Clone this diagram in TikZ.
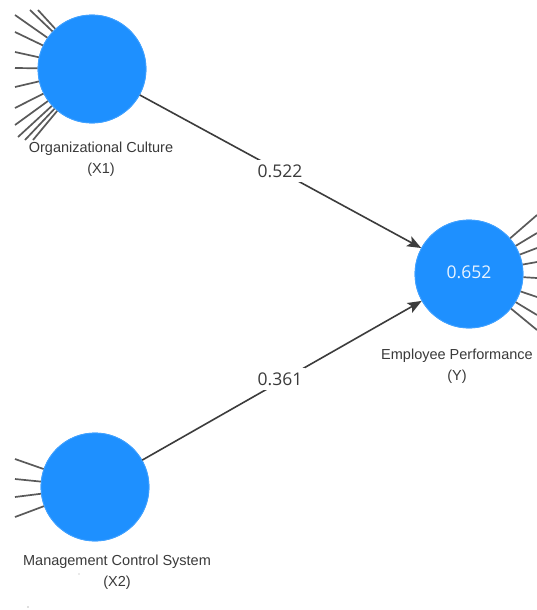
\documentclass[tikz,border=0pt]{standalone}
\usepackage{fontspec}
\setmainfont{Liberation Sans}
\newfontfamily\numfont{Open Sans}
\usetikzlibrary{arrows.meta}

\definecolor{lvblue}{HTML}{1E90FF}
\definecolor{pathgray}{HTML}{3C3C3C}
\definecolor{indgray}{HTML}{5A5A5A}
\definecolor{txtgray}{HTML}{3A3A3A}

\tikzset{
  latent/.style={circle, fill=lvblue, draw=lvblue!85!white, line width=0.8pt,
    minimum size=108pt, inner sep=0pt},
  lvname/.style={align=center, text=txtgray,
    font=\fontsize{14.5}{21}\selectfont},
  indline/.style={draw=indgray, line width=1.7pt},
  pathline/.style={draw=pathgray, line width=1.6pt,
    -{Stealth[length=14pt,width=11pt,inset=3pt]}},
  coef/.style={fill=white, text=txtgray, inner xsep=3pt, inner ysep=5pt,
    font=\numfont\fontsize{17.5}{20}\selectfont},
  rsq/.style={text=white!90!lvblue, font=\numfont\fontsize{17.5}{20}\selectfont}
}

\begin{document}
\begin{tikzpicture}[x=1pt, y=-1pt]
  \useasboundingbox[fill=white] (0,0) rectangle (537,610);

  % latent variables
  \node[latent] (x1) at (92,69) {};
  \node[latent] (y)  at (469,274) {};
  \node[latent] (x2) at (95,487) {};

  % indicator lines
  \foreach \px/\py in {30/10, 38/10, 15/15, 15/32, 15/52, 15/68, 15/87,
                       15/108, 15/125, 18/137, 25/140, 33/140}
    \draw[indline] (x1) -- (\px,\py);
  \foreach \py in {215, 233, 248, 262, 278, 297, 315, 330}
    \draw[indline] (y) -- (537,\py);
  \foreach \py in {459, 479, 497, 517}
    \draw[indline] (x2) -- (15,\py);

  % circles again, on top of the line ends
  \node[latent] at (x1) {};
  \node[latent] at (y) {};
  \node[latent] at (x2) {};
  \node[rsq] (r2) at (469,272) {0.652};

  % names
  \node[lvname] (n1) at (101,159) {Organizational Culture\\(X1)};
  \node[lvname] (ny) at (457,366) {Employee Performance\\(Y)};
  \node[lvname] (n2) at (117,572) {Management Control System\\(X2)};

  % structural paths
  \draw[pathline] (x1) -- (y);
  \draw[pathline] (x2) -- (y);
  \node[coef] (c1) at (280,171) {0.522};
  \node[coef] (c2) at (280,379) {0.361};

  % specks
  \fill[gray!70] (79,574) circle (0.7);
  \fill[gray!50] (28,607) circle (0.8);
\end{tikzpicture}
\end{document}
